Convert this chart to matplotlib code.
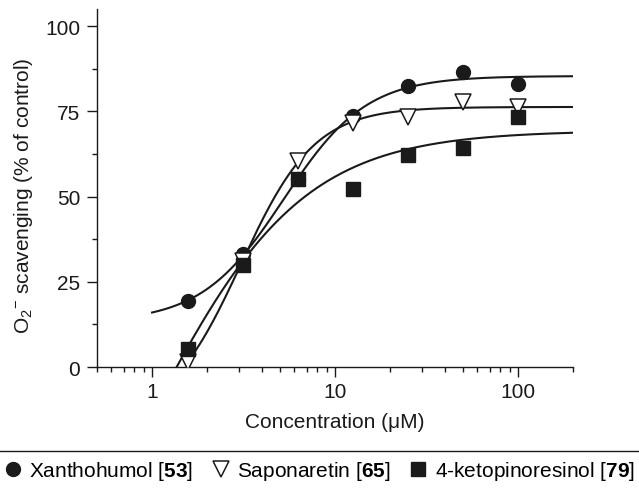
import numpy as np
import matplotlib
matplotlib.use("Agg")
import matplotlib.pyplot as plt
from matplotlib.lines import Line2D
from matplotlib.ticker import FixedLocator, LogLocator, NullFormatter

plt.rcParams['font.family'] = ['Liberation Sans', 'DejaVu Sans']
plt.rcParams['mathtext.fontset'] = 'custom'
plt.rcParams['mathtext.rm'] = 'Liberation Sans'
plt.rcParams['mathtext.it'] = 'Liberation Sans:italic'
plt.rcParams['mathtext.bf'] = 'Liberation Sans:bold'

# concentrations (uM) and % scavenging
conc = [1.5625, 3.125, 6.25, 12.5, 25, 50, 100]
xanthohumol = [19.3, 33, 55, 73.7, 82.3, 86.4, 83]
saponaretin = [1.5, 31, 60.5, 71.7, 73.3, 77.8, 76.3]
ketopinoresinol = [5.3, 30, 55, 52.2, 62.2, 64.1, 73.2]

labels = ['Xanthohumol [$\\mathbf{53}$]',
          'Saponaretin [$\\mathbf{65}$]',
          '4-ketopinoresinol [$\\mathbf{79}$]']


def fit_logistic(x, y):
    # 4-parameter logistic on log10(x); grid over ec50/slope, lstsq for bottom/top
    lx = np.log10(np.asarray(x, float))
    y = np.asarray(y, float)
    best = None
    for le in np.linspace(0.0, 1.5, 301):
        for h in np.linspace(0.5, 5.0, 181):
            s = 1.0 / (1.0 + 10 ** ((le - lx) * h))
            A = np.column_stack([1 - s, s])
            coef, *_ = np.linalg.lstsq(A, y, rcond=None)
            err = np.sum((A @ coef - y) ** 2)
            if best is None or err < best[0]:
                best = (err, le, h, coef[0], coef[1])
    _, le, h, bot, top = best
    return lambda xx: bot + (top - bot) / (1.0 + 10 ** ((le - np.log10(xx)) * h))


fig = plt.figure(figsize=(6.39, 4.89), dpi=100)
ax = fig.add_axes([0.1518, 0.2474, 0.7449, 0.7322])

series = [
    (xanthohumol, dict(marker='o', color='#1a1a1a', ms=10, ls='none', zorder=3), 1.0),
    (saponaretin, dict(marker='v', mfc='white', mec='#1a1a1a', mew=1.1, ms=11, ls='none', zorder=4), 1.5625),
    (ketopinoresinol, dict(marker='s', color='#1a1a1a', ms=10.5, ls='none', zorder=5), 1.0),
]

handles = []
for vals, style, x0 in series:
    f = fit_logistic(conc, vals)
    xs = np.logspace(np.log10(x0), np.log10(200), 300)
    ax.plot(xs, f(xs), color='#1a1a1a', lw=1.5, zorder=2)
    h, = ax.plot(conc, vals, **style)
    handles.append(h)

ax.set_xscale('log')
ax.set_xlim(0.5, 200)
ax.set_ylim(0, 105)
ax.set_xticks([1, 10, 100])
ax.set_xticklabels(['1', '10', '100'])
ax.xaxis.set_minor_locator(LogLocator(base=10, subs=np.arange(2, 10)))
ax.xaxis.set_minor_formatter(NullFormatter())
ax.set_yticks([0, 25, 50, 75, 100])
ax.yaxis.set_minor_locator(FixedLocator([12.5, 37.5, 62.5, 87.5]))

for s in ['top', 'right']:
    ax.spines[s].set_visible(False)
for s in ['left', 'bottom']:
    ax.spines[s].set_linewidth(1.0)
    ax.spines[s].set_color('#1a1a1a')

ax.tick_params(which='major', length=7, width=1, labelsize=15, colors='#1a1a1a')
ax.tick_params(axis='y', which='major', pad=5)
ax.tick_params(axis='x', which='major', pad=4)
ax.tick_params(which='minor', length=3.5, width=1, colors='#1a1a1a')

ax.set_xlabel('Concentration (\u03bcM)', fontsize=15, labelpad=8, color='#1a1a1a')
ax.set_ylabel('O$_2$$^{\u2212}$ scavenging (% of control)', fontsize=15, color='#1a1a1a')
ax.yaxis.set_label_coords(-0.13, 0.48)

fig.add_artist(Line2D([0, 1], [0.0757, 0.0757], transform=fig.transFigure,
                      color='#1a1a1a', lw=1.0))

fig.legend(handles, labels, loc='center', bbox_to_anchor=(0.5, 0.035),
           bbox_transform=fig.transFigure, ncol=3, frameon=False, fontsize=15,
           handlelength=0.8, handletextpad=0.4, columnspacing=0.9,
           borderaxespad=0, borderpad=0, markerscale=1.0)

fig.savefig('out.png', dpi=100)
